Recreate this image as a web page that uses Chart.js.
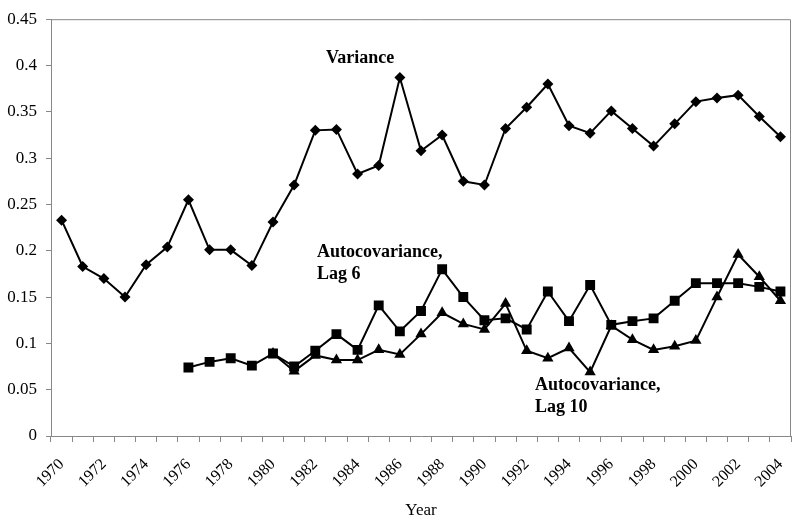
<!DOCTYPE html>
<html>
<head>
<meta charset="utf-8">
<script src="https://cdn.jsdelivr.net/npm/chart.js@4/dist/chart.umd.min.js"></script>
<style>
  html, body { margin: 0; padding: 0; background: #fff; }
  #wrap { width: 800px; height: 526px; }
</style>
</head>
<body>
<div id="wrap"><canvas id="grafico"></canvas></div>
<script>
// Anos (eixo x)
const anos = [
  "1970","1971","1972","1973","1974","1975","1976","1977","1978","1979",
  "1980","1981","1982","1983","1984","1985","1986","1987","1988","1989",
  "1990","1991","1992","1993","1994","1995","1996","1997","1998","1999",
  "2000","2001","2002","2003","2004",
]

// Variância
const variancia = [
  0.233, 0.183, 0.170, 0.150, 0.185, 0.204, 0.255, 0.201, 0.201, 0.184,
  0.231, 0.271, 0.330, 0.331, 0.283, 0.292, 0.387, 0.308, 0.325, 0.275,
  0.271, 0.332, 0.355, 0.380, 0.335, 0.327, 0.351, 0.332, 0.313, 0.337,
  0.361, 0.365, 0.368, 0.345, 0.323,
]

// Autocovariância, lag 6 (começa em 1976)
const lag6 = [
  null, null, null, null, null, null, 0.074, 0.080, 0.084, 0.076,
  0.089, 0.075, 0.092, 0.110, 0.093, 0.141, 0.113, 0.135, 0.180, 0.150,
  0.125, 0.127, 0.115, 0.156, 0.124, 0.163, 0.120, 0.124, 0.127, 0.146,
  0.165, 0.165, 0.165, 0.161, 0.156,
]

// Autocovariância, lag 10 (começa em 1980)
const lag10 = [
  null, null, null, null, null, null, null, null, null, null,
  0.089, 0.070, 0.087, 0.082, 0.082, 0.093, 0.088, 0.110, 0.133, 0.121,
  0.115, 0.143, 0.092, 0.084, 0.095, 0.069, 0.119, 0.104, 0.093, 0.097,
  0.103, 0.150, 0.196, 0.172, 0.146,
]

// Ticks do eixo y
const yMin = 0
const yMax = 0.45
const yPasso = 0.05

const fonteSerif = "'Liberation Serif', 'DejaVu Serif', serif"

// Moldura cinza (topo e direita) como no Excel
const molduraPlugin = {
  id: "moldura",
  afterDraw(chart) {
    const { ctx, chartArea: a } = chart
    ctx.save()
    ctx.strokeStyle = "#888"
    ctx.lineWidth = 1
    ctx.beginPath()
    ctx.moveTo(a.left, a.top + 0.5)
    ctx.lineTo(a.right - 0.5, a.top + 0.5)
    ctx.lineTo(a.right - 0.5, a.bottom)
    ctx.stroke()
    ctx.restore()
  },
}

// Rótulos das séries escritos dentro do gráfico
const rotulosPlugin = {
  id: "rotulos",
  afterDatasetsDraw(chart) {
    const ctx = chart.ctx
    ctx.save()
    ctx.fillStyle = "#000"
    ctx.font = "bold 18px " + fonteSerif
    ctx.textAlign = "left"
    ctx.textBaseline = "alphabetic"
    ctx.fillText("Variance", 326, 63)
    ctx.fillText("Autocovariance,", 317, 257)
    ctx.fillText("Lag 6", 317, 279)
    ctx.fillText("Autocovariance,", 535, 390)
    ctx.fillText("Lag 10", 535, 412)
    ctx.restore()
  },
}

const ctx = document.getElementById("grafico").getContext("2d")

new Chart(ctx, {
  type: "line",
  data: {
    labels: anos,
    datasets: [
      {
        label: "Variance",
        data: variancia,
        borderColor: "#000",
        backgroundColor: "#000",
        borderWidth: 2,
        pointStyle: "rectRot",
        pointRadius: 5.5,
        pointBorderWidth: 0,
        tension: 0,
      },
      {
        label: "Autocovariance, Lag 6",
        data: lag6,
        borderColor: "#000",
        backgroundColor: "#000",
        borderWidth: 2,
        pointStyle: "rect",
        pointRadius: 7,
        pointBorderWidth: 0,
        tension: 0,
      },
      {
        label: "Autocovariance, Lag 10",
        data: lag10,
        borderColor: "#000",
        backgroundColor: "#000",
        borderWidth: 2,
        pointStyle: "triangle",
        pointRadius: 6.5,
        pointBorderWidth: 0,
        tension: 0,
      },
    ],
  },
  options: {
    responsive: true,
    maintainAspectRatio: false,
    animation: false,
    layout: { padding: { top: 13, right: 9, left: 0, bottom: 0 } },
    plugins: {
      legend: { display: false },
      tooltip: { enabled: false },
    },
    scales: {
      x: {
        type: "category",
        offset: true,
        grid: {
          display: true,
          offset: true,
          drawOnChartArea: false,
          drawTicks: true,
          tickLength: 6,
          color: "#888",
        },
        border: { display: true, color: "#888", width: 1 },
        ticks: {
          autoSkip: false,
          maxRotation: 45,
          minRotation: 45,
          padding: 13,
          color: "#000",
          font: { family: fonteSerif, size: 16 },
          callback: function (val, i) {
            return i % 2 === 0 ? this.getLabelForValue(val) : ""
          },
        },
        title: {
          display: true,
          text: "Year",
          color: "#000",
          font: { family: fonteSerif, size: 17 },
          padding: { top: 0, bottom: 5 },
        },
        afterFit(scale) {
          scale.height = 90
          scale.paddingLeft = 0
          scale.paddingRight = 0
        },
      },
      y: {
        min: yMin,
        max: yMax,
        grid: {
          display: true,
          drawOnChartArea: false,
          drawTicks: true,
          tickLength: 5,
          color: "#888",
        },
        border: { display: true, color: "#888", width: 1 },
        ticks: {
          stepSize: yPasso,
          padding: 9,
          color: "#000",
          font: { family: fonteSerif, size: 17 },
          callback: (v) => String(Number(v.toFixed(2))),
        },
        afterFit(scale) {
          scale.width = 51
        },
      },
    },
  },
  plugins: [molduraPlugin, rotulosPlugin],
})
</script>
</body>
</html>
